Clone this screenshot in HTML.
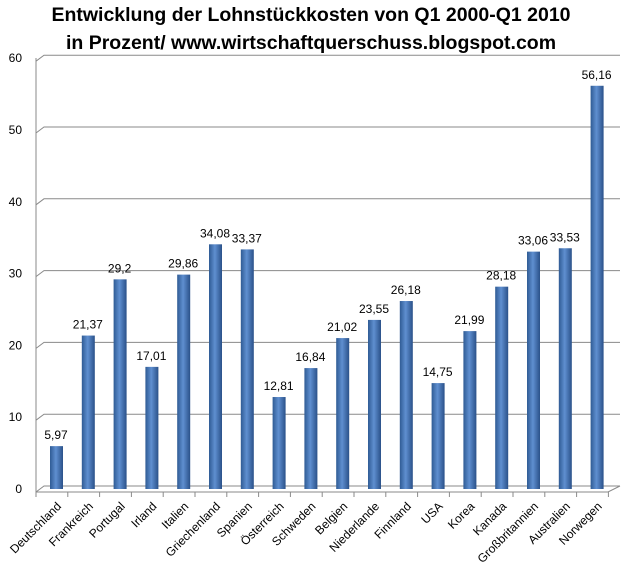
<!DOCTYPE html>
<html><head><meta charset="utf-8"><style>
body{margin:0;background:#fff}
svg{display:block;font-family:"Liberation Sans",sans-serif}
</style></head><body>
<svg id="c" width="622" height="569">
<defs><linearGradient id="g" x1="0" x2="1" y1="0" y2="0">
<stop offset="0" stop-color="#2f5b94"/><stop offset="0.45" stop-color="#5f8fd0"/><stop offset="1" stop-color="#2a5189"/></linearGradient></defs>
<text x="311" y="21" text-anchor="middle" font-size="19.5" font-weight="bold">Entwicklung der Lohnstückkosten von Q1 2000-Q1 2010</text>
<text x="311" y="49" text-anchor="middle" font-size="19.5" font-weight="bold">in Prozent/ www.wirtschaftquerschuss.blogspot.com</text>
<g id="grid"></g><g id="bars"></g><g id="labels"></g>
</svg>
<script>
const categories=["Deutschland","Frankreich","Portugal","Irland","Italien","Griechenland","Spanien","Österreich","Schweden","Belgien","Niederlande","Finnland","USA","Korea","Kanada","Großbritannien","Australien","Norwegen"];
const values=[5.97,21.37,29.2,17.01,29.86,34.08,33.37,12.81,16.84,21.02,23.55,26.18,14.75,21.99,28.18,33.06,33.53,56.16];
const valueLabels=["5,97","21,37","29,2","17,01","29,86","34,08","33,37","12,81","16,84","21,02","23,55","26,18","14,75","21,99","28,18","33,06","33,53","56,16"];
const yTicks=[0,10,20,30,40,50,60];
const NS="http://www.w3.org/2000/svg";
const y=v=>489-v*7.18;
const xc=i=>56+i*31.8;
function mk(tag,attrs,parent,text){const e=document.createElementNS(NS,tag);for(const k in attrs)e.setAttribute(k,attrs[k]);if(text!==undefined)e.textContent=text;document.getElementById(parent).appendChild(e);return e;}
yTicks.forEach(t=>{
 const g=mk("path",{d:`M36 ${y(t)+3} L44 ${y(t)-3} L620 ${y(t)-3}`,stroke:"#8a8a8a",fill:"none","stroke-width":1},"grid");
 
 
 const l=mk("text",{x:22,y:y(t)+4,"text-anchor":"end","font-size":12},"grid",String(t));
 
 
});
const ax=mk("path",{d:"M36 58 L36 492 L608 492 L620 486",stroke:"#8a8a8a",fill:"none"},"grid");


for(let i=0;i<=categories.length;i++){
 const tk=mk("line",{x1:36+i*31.8,x2:36+i*31.8,y1:492,y2:497,stroke:"#8a8a8a"},"grid");
 
 
}
values.forEach((v,i)=>{
 const b=mk("rect",{x:xc(i)-6,y:y(v),width:13,height:489-y(v),fill:"url(#g)"},"bars");
 
 
 const vl=mk("text",{x:xc(i),y:y(v)-7,"text-anchor":"middle","font-size":12},"labels",valueLabels[i]);
 
 
 const cl=mk("text",{x:xc(i)+6,y:507,"text-anchor":"end","font-size":12,transform:`rotate(-45 ${xc(i)+6} 507)`},"labels",categories[i]);
 
 
});
</script>
</body></html>
